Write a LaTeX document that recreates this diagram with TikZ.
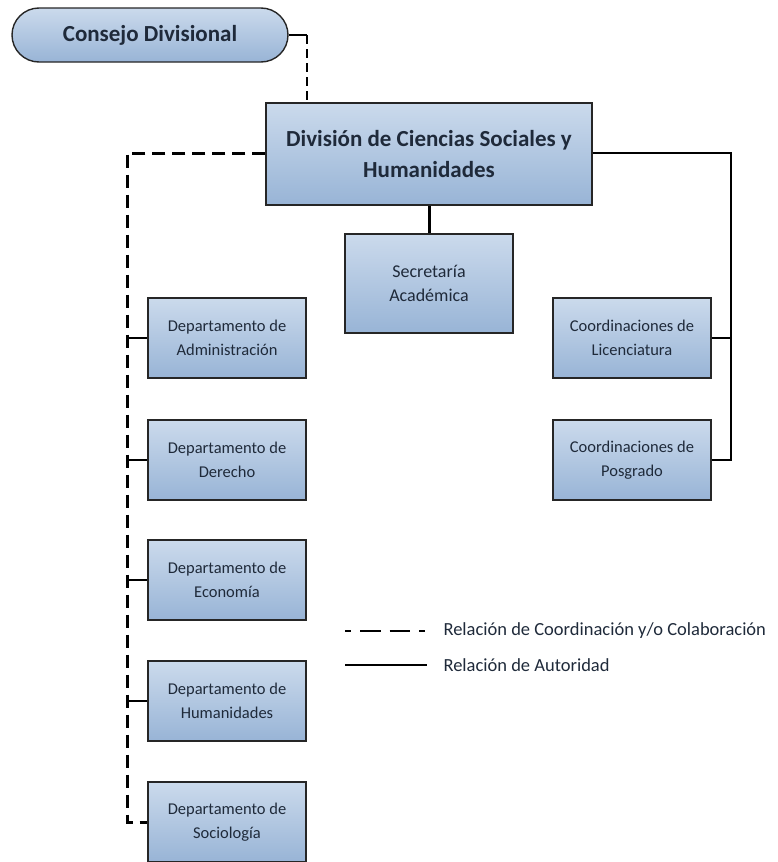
\documentclass[tikz,border=0pt]{standalone}
\usepackage{fontspec}
\setmainfont{Carlito}
\definecolor{boxtop}{HTML}{CBDAEC}
\definecolor{boxbot}{HTML}{98B4D6}
\definecolor{txt}{HTML}{1F2A3A}
\begin{document}
\begin{tikzpicture}[x=1pt,y=-1pt,
  unitbox/.style={draw=black!85, line width=1.4pt, top color=boxtop, bottom color=boxbot, inner sep=0pt, text=txt, align=center},
  dept/.style={unitbox, minimum width=158pt, minimum height=80pt, font=\fontsize{16.5}{24}\selectfont},
  coord/.style={dashed, dash pattern=on 13pt off 7pt, line width=3pt},
  thincoord/.style={dashed, dash pattern=on 9pt off 5pt, line width=1.6pt},
  auth/.style={line width=1.2pt},
  legtext/.style={anchor=west, font=\fontsize{18.5}{22}\selectfont, text=txt}]
\useasboundingbox (0,0) rectangle (778,862);

\node[unitbox, rounded corners=27pt, minimum width=276pt, minimum height=54pt, font=\bfseries\fontsize{23}{26}\selectfont] (consejo) at (150,35) {Consejo Divisional};

\node[unitbox, minimum width=326pt, minimum height=102pt, font=\bfseries\fontsize{23}{31}\selectfont] (div) at (429,154) {División de Ciencias Sociales y\\Humanidades};

\node[unitbox, minimum width=168pt, minimum height=99pt, font=\fontsize{18}{24}\selectfont] (sec) at (429,283.5) {Secretaría\\Académica};

\node[dept] (adm) at (227,338) {Departamento de\\Administración};
\node[dept] (der) at (227,460) {Departamento de\\Derecho};
\node[dept] (eco) at (227,580) {Departamento de\\Economía};
\node[dept] (hum) at (227,701) {Departamento de\\Humanidades};
\node[dept] (soc) at (227,822) {Departamento de\\Sociología};

\node[dept] (lic) at (632,338) {Coordinaciones de\\Licenciatura};
\node[dept] (pos) at (632,460) {Coordinaciones de\\Posgrado};

% connectors
\coordinate (c1) at (307,35);
\draw[auth] (consejo.east) -- (c1);
\draw[thincoord] (c1) -- (307,103);

\coordinate (trunktop) at (127,153);
\coordinate (trunkbot) at (127,822);
\draw[coord] (div.west |- 0,153) -- (trunktop) -- (trunkbot) -- (soc.west);
\foreach \d in {adm,der,eco,hum}
  \draw[auth] (127,0 |- \d.west) -- (\d.west);

\draw[line width=3pt] (div.south) -- (sec.north);

\coordinate (rtop) at (731,153);
\coordinate (rbot) at (731,460);
\draw[auth] (div.east |- 0,153) -- (rtop) -- (rbot) -- (pos.east);
\draw[auth] (lic.east) -- (731,0 |- lic.east);

% legend
\coordinate (l1a) at (345,631);
\coordinate (l1b) at (425,631);
\coordinate (l2a) at (345,665);
\coordinate (l2b) at (427,665);
\draw[dash pattern=on 20.5pt off 9pt, dash phase=14.5pt, line width=2pt] (l1a) -- (l1b);
\draw[auth] (l2a) -- (l2b);
\node[legtext] (lt1) at (440,631) {Relación de Coordinación y/o Colaboración};
\node[legtext] (lt2) at (440,665) {Relación de Autoridad};
\end{tikzpicture}
\end{document}
